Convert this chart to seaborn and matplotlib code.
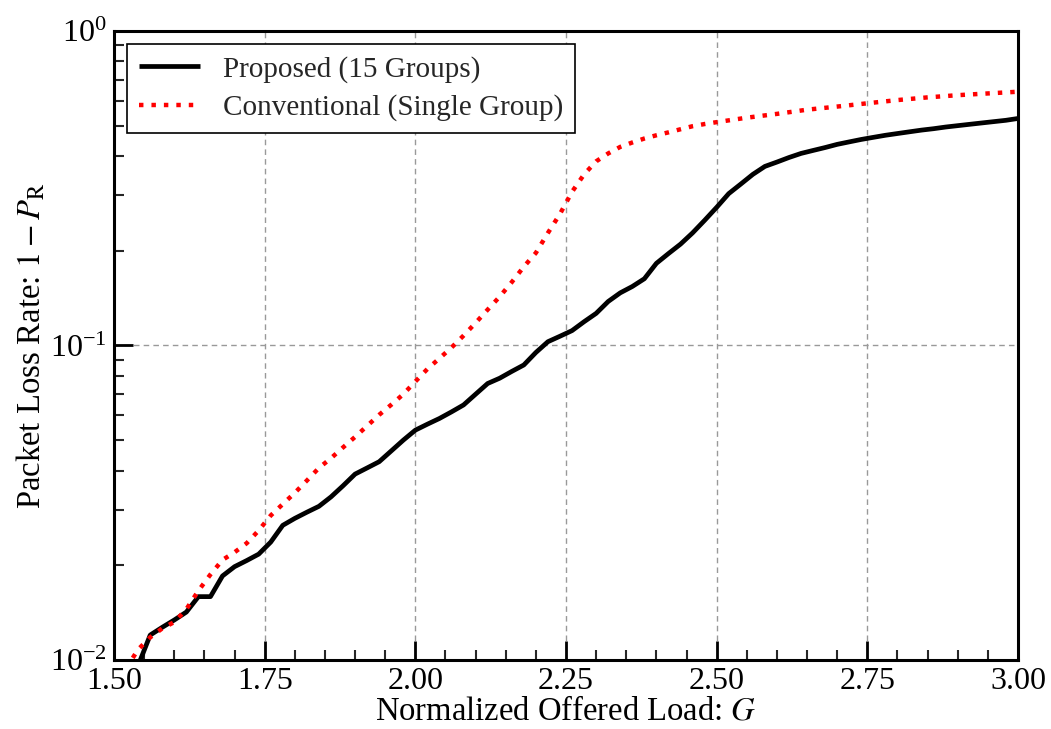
import numpy as np
import pandas as pd
import matplotlib
matplotlib.use("Agg")
import matplotlib.pyplot as plt
import seaborn as sns
from matplotlib.ticker import MultipleLocator, LogLocator, NullFormatter

# ---- data ----
g_proposed = [1.54, 1.56, 1.58, 1.60, 1.62, 1.64, 1.66, 1.68, 1.70, 1.72, 1.74, 1.76, 1.78,
              1.80, 1.82, 1.84, 1.86, 1.88, 1.90, 1.92, 1.94, 1.96, 1.98, 2.00, 2.02, 2.04,
              2.06, 2.08, 2.10, 2.12, 2.14, 2.16, 2.18, 2.20, 2.22, 2.24, 2.26, 2.28, 2.30,
              2.32, 2.34, 2.36, 2.38, 2.40, 2.42, 2.44, 2.46, 2.48, 2.50, 2.52, 2.54, 2.56,
              2.58, 2.60, 2.62, 2.64, 2.66, 2.68, 2.70, 2.72, 2.74, 2.76, 2.78, 2.80, 2.82,
              2.84, 2.86, 2.88, 2.90, 2.92, 2.94, 2.96, 2.98, 3.00]
loss_proposed = [0.0096, 0.0120, 0.0127, 0.0134, 0.0142, 0.0159, 0.0159, 0.0185, 0.0198, 0.0207,
                 0.0217, 0.0237, 0.0268, 0.0282, 0.0295, 0.0308, 0.0330, 0.0358, 0.0390, 0.0408,
                 0.0427, 0.0462, 0.0500, 0.0538, 0.0562, 0.0586, 0.0615, 0.0647, 0.0700, 0.0757,
                 0.0787, 0.0827, 0.0867, 0.0950, 0.1028, 0.1070, 0.1115, 0.1190, 0.1265, 0.1380,
                 0.1470, 0.1540, 0.1630, 0.1825, 0.1960, 0.2100, 0.2280, 0.2500, 0.2750, 0.3040,
                 0.3260, 0.3500, 0.3710, 0.3830, 0.3960, 0.4080, 0.4170, 0.4260, 0.4360, 0.4440,
                 0.4520, 0.4590, 0.4660, 0.4720, 0.4780, 0.4840, 0.4890, 0.4950, 0.5000, 0.5050,
                 0.5100, 0.5150, 0.5200, 0.5270]

g_conventional = [1.52, 1.54, 1.56, 1.58, 1.60, 1.62, 1.64, 1.66, 1.68, 1.70, 1.72, 1.74, 1.76,
                  1.78, 1.80, 1.82, 1.84, 1.86, 1.88, 1.90, 1.92, 1.94, 1.96, 1.98, 2.00, 2.02,
                  2.04, 2.06, 2.08, 2.10, 2.12, 2.14, 2.16, 2.18, 2.20, 2.22, 2.24, 2.26, 2.28,
                  2.30, 2.32, 2.34, 2.36, 2.38, 2.40, 2.42, 2.44, 2.46, 2.48, 2.50, 2.55, 2.60,
                  2.65, 2.70, 2.75, 2.80, 2.85, 2.90, 2.95, 3.00]
loss_conventional = [0.0094, 0.0108, 0.0118, 0.0126, 0.0132, 0.0145, 0.0166, 0.0187, 0.0208, 0.0220,
                     0.0235, 0.0258, 0.0288, 0.0313, 0.0340, 0.0372, 0.0408, 0.0438, 0.0474, 0.0512,
                     0.0555, 0.0602, 0.0648, 0.0700, 0.0768, 0.0842, 0.0910, 0.0985, 0.1075, 0.1180,
                     0.1300, 0.1430, 0.1590, 0.1780, 0.1970, 0.2280, 0.2620, 0.3080, 0.3500, 0.3850,
                     0.4080, 0.4280, 0.4420, 0.4550, 0.4660, 0.4760, 0.4870, 0.4980, 0.5060, 0.5130,
                     0.5300, 0.5450, 0.5620, 0.5750, 0.5890, 0.6030, 0.6150, 0.6250, 0.6330, 0.6410]

label_proposed = "Proposed (15 Groups)"
label_conventional = "Conventional (Single Group)"
x_ticks = [1.50, 1.75, 2.00, 2.25, 2.50, 2.75, 3.00]
x_ticklabels = ["1.50", "1.75", "2.00", "2.25", "2.50", "2.75", "3.00"]

# ---- style ----
sns.set_theme(style="ticks")
plt.rcParams["font.family"] = ["Liberation Serif", "DejaVu Serif"]
plt.rcParams["mathtext.fontset"] = "stix"

df_p = pd.DataFrame({"G": g_proposed, "loss": loss_proposed})
df_c = pd.DataFrame({"G": g_conventional, "loss": loss_conventional})

fig = plt.figure(figsize=(10.51, 7.29), dpi=100)
ax = fig.add_axes([0.1085, 0.0947, 0.8601, 0.8628])

sns.lineplot(data=df_p, x="G", y="loss", ax=ax, color="black", linewidth=3.4,
             label=label_proposed, solid_capstyle="butt")
sns.lineplot(data=df_c, x="G", y="loss", ax=ax, color="#ff0000", linewidth=3.2,
             label=label_conventional)
ax.lines[1].set_dashes([1.0, 1.8])
ax.lines[1].set_dash_capstyle("butt")

ax.set_yscale("log")
ax.set_xlim(1.5, 3.0)
ax.set_ylim(1e-2, 1e0)

ax.set_xticks(x_ticks)
ax.set_xticklabels(x_ticklabels)
ax.xaxis.set_minor_locator(MultipleLocator(0.05))
ax.yaxis.set_major_locator(LogLocator(base=10, numticks=10))
ax.yaxis.set_minor_locator(LogLocator(base=10, subs=np.arange(2, 10), numticks=20))
ax.yaxis.set_minor_formatter(NullFormatter())

ax.tick_params(axis="both", which="major", direction="in", length=14, width=2,
               labelsize=23, top=False, right=False, pad=5, colors="black")
ax.tick_params(axis="both", which="minor", direction="in", length=7, width=1.5,
               top=False, right=False)

for s in ax.spines.values():
    s.set_linewidth(2.2)
    s.set_color("black")

ax.grid(True, which="major", color="#999999", linestyle=(0, (4, 3)), linewidth=1.0)

ax.set_xlabel("Normalized Offered Load: $G$", fontsize=23.5, labelpad=0, color="black")
ax.set_ylabel("Packet Loss Rate: $1-P_{\\mathrm{R}}$", fontsize=23.5, labelpad=2, color="black")

leg = ax.legend(loc="upper left", fontsize=21, frameon=True, fancybox=False,
                edgecolor="black", framealpha=1.0, handlelength=2.1,
                borderaxespad=0.45, borderpad=0.4, labelspacing=0.4, handletextpad=0.8)
leg.get_frame().set_linewidth(1.2)

fig.savefig("out.png", dpi=100)
